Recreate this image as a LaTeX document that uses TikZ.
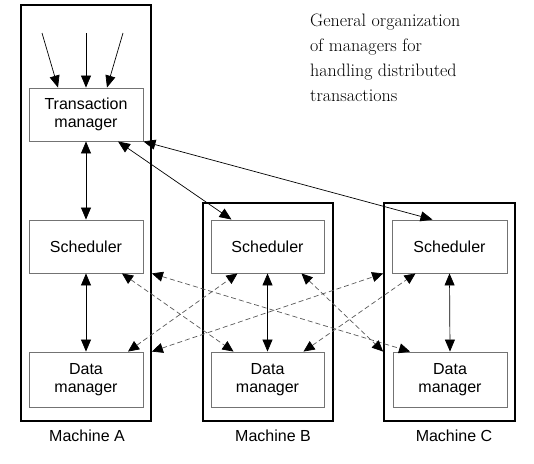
\documentclass[tikz,border=0pt]{standalone}
\usepackage{fontspec}
\setsansfont{Liberation Sans}
\usetikzlibrary{arrows.meta,calc}
\begin{document}
\begin{tikzpicture}[x=1pt,y=-1pt,
  machine/.style={draw, line width=1.8pt, inner sep=0pt},
  unit/.style={draw=black!55, line width=0.9pt, inner sep=0pt, align=center,
    font=\sffamily\fontsize{16}{18.5}\selectfont},
  mlabel/.style={font=\sffamily\fontsize{16}{18}\selectfont},
  inarrow/.style={line width=0.7pt, -{Triangle[length=12pt,width=10pt]}},
  link/.style={line width=0.7pt, {Triangle[length=12pt,width=10pt]}-{Triangle[length=12pt,width=10pt]}},
  dlink/.style={line width=0.7pt, draw=black!65, dash pattern=on 5pt off 3pt,
    {Triangle[length=11pt,width=10pt,color=black]}-{Triangle[length=11pt,width=10pt,color=black]}},
]
\useasboundingbox (0,0) rectangle (534,463);

% machines
\node[machine, minimum width=130pt, minimum height=416pt] (mA) at (86,213) {};
\node[machine, minimum width=130pt, minimum height=218pt] (mB) at (268,312) {};
\node[machine, minimum width=131pt, minimum height=218pt] (mC) at (449.5,312) {};

% managers and schedulers
\node[unit, minimum width=114pt, minimum height=53pt] (tm) at (86,114.5) {Transaction\\manager};
\node[unit, minimum width=114pt, minimum height=53pt] (schA) at (86,246.5) {Scheduler};
\node[unit, minimum width=114pt, minimum height=55pt] (datA) at (86,379.5) {Data\\manager};
\node[unit, minimum width=113pt, minimum height=53pt] (schB) at (267.5,246.5) {Scheduler};
\node[unit, minimum width=113pt, minimum height=55pt] (datB) at (267.5,379.5) {Data\\manager};
\node[unit, minimum width=115pt, minimum height=53pt] (schC) at (449.5,246.5) {Scheduler};
\node[unit, minimum width=114pt, minimum height=55pt] (datC) at (450,379.5) {Data\\manager};

% machine labels
\node[mlabel] (labA) at (87,436) {Machine A};
\node[mlabel] (labB) at (273,436) {Machine B};
\node[mlabel] (labC) at (454,436) {Machine C};

% caption
\node[anchor=north west, inner sep=0pt, align=left,
  font=\rmfamily\fontsize{18}{25}\selectfont] (cap) at (310,13.5)
  {General organization\\of managers for\\handling distributed\\transactions};

% incoming requests
\coordinate (in1) at (42,33);
\coordinate (in2) at (86,33);
\coordinate (in3) at (123,33);
\draw[inarrow] (in1) -- ($(tm.north)+(-28,0)$);
\draw[inarrow] (in2) -- (tm.north);
\draw[inarrow] (in3) -- ($(tm.north)+(21,0)$);

% transaction manager to schedulers
\draw[link] (tm.south) -- (schA.north);
\draw[link] ($(tm.south)+(32,0)$) -- ($(schB.north)+(-36,0)$);
\draw[link] (tm.south east) -- ($(schC.north)+(-17,0)$);

% scheduler to local data manager
\draw[link] (schA.south) -- (datA.north);
\draw[link] (schB.south) -- (datB.north);
\draw[link] (schC.south) -- (datC.north);

% scheduler to remote data managers
\draw[dlink] ($(schA.south)+(36,0)$) -- ($(datB.north)+(-34,0)$);
\draw[dlink] (mA.east |- schA.south) -- ($(datC.north)+(-40,0)$);
\draw[dlink] ($(datA.north)+(42,0)$) -- ($(schB.south)+(-30,0)$);
\draw[dlink] (mA.east |- datA.north) -- (mC.west |- schC.south);
\draw[dlink] ($(schB.south)+(34,0)$) -- (mC.west |- datC.north);
\draw[dlink] ($(datB.north)+(36,0)$) -- ($(schC.south)+(-34,0)$);
\end{tikzpicture}
\end{document}
